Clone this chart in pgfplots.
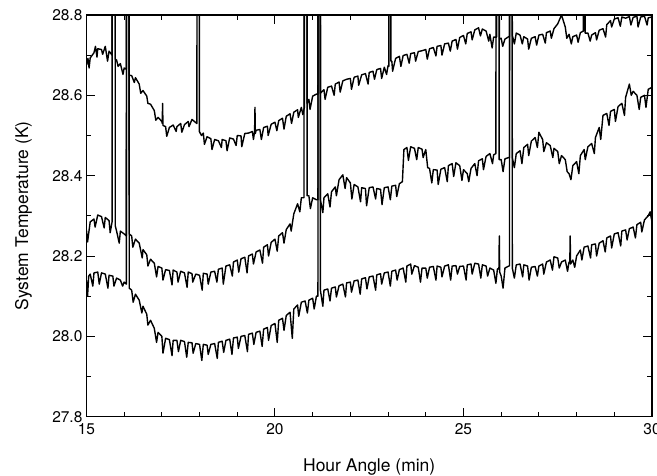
\documentclass[border=0pt]{standalone}
\usepackage{pgfplots}
\pgfplotsset{compat=1.18}
\usepackage{fontspec}
\setmainfont{TeX Gyre Heros}
\usetikzlibrary{calc}
\begin{document}
\begin{tikzpicture}
\begin{axis}[
  width=566bp, height=402bp, scale only axis,
  xmin=15, xmax=30, ymin=27.8, ymax=28.8,
  xtick={15,20,25,30},
  ytick={27.8,28.0,28.2,28.4,28.6,28.8},
  minor x tick num=4, minor y tick num=1,
  tick align=inside,
  major tick length=9bp, minor tick length=5bp,
  every tick/.style={black, line width=1pt},
  axis line style={line width=1.2pt},
  /pgf/number format/assume math mode=true,
  yticklabel style={/pgf/number format/fixed, /pgf/number format/precision=1, /pgf/number format/fixed zerofill, font=\fontsize{15.5bp}{17bp}\selectfont, xshift=-0.5bp},
  xticklabel style={font=\fontsize{15.5bp}{17bp}\selectfont, yshift=-3bp},
  xlabel={Hour Angle (min)},
  ylabel={System Temperature (K)},
  xlabel style={at={(axis description cs:0.5,-0.1244)}, anchor=center, font=\fontsize{17.5bp}{20bp}\selectfont},
  ylabel style={at={(axis description cs:-0.1113,0.5)}, anchor=center, font=\fontsize{17.5bp}{20bp}\selectfont},
]
% top series
\addplot[black, line width=1.4pt, line join=round] coordinates {
(15.0,28.675)(15.04,28.692)(15.07,28.668)(15.1,28.693)(15.2,28.706)(15.24,28.722)(15.28,28.695)(15.3,28.716)(15.4,28.714)(15.43,28.702)(15.5,28.722)(15.56,28.685)(15.6,28.71)
(15.68,28.70)(15.685,29.5)(15.76,29.5)(15.765,28.69)
(15.8,28.688)(15.84,28.672)(15.9,28.679)(15.97,28.652)(16.0,28.668)
(16.06,28.665)(16.065,29.5)(16.13,29.5)(16.135,28.65)
(16.2,28.649)(16.27,28.632)(16.3,28.644)(16.4,28.628)(16.44,28.605)(16.5,28.612)(16.6,28.598)(16.63,28.58)(16.7,28.578)(16.8,28.562)(16.84,28.538)(16.9,28.545)(17.0,28.535)
(17.01,28.53)(17.02,28.58)(17.03,28.525)
(17.1,28.522)(17.13,28.498)(17.2,28.52)(17.3,28.526)(17.38,28.51)(17.4,28.522)(17.5,28.53)(17.53,28.508)(17.6,28.527)(17.7,28.535)(17.72,28.522)(17.8,28.54)(17.9,28.532)
(17.93,28.53)(17.935,29.5)(17.99,29.5)(17.995,28.51)
(18.05,28.50)(18.1,28.506)(18.13,28.478)(18.2,28.497)(18.3,28.492)(18.33,28.465)(18.4,28.49)(18.5,28.487)(18.58,28.47)(18.6,28.49)(18.7,28.487)(18.73,28.462)(18.8,28.494)(18.9,28.491)(18.97,28.475)(19.0,28.5)(19.1,28.499)(19.12,28.472)(19.2,28.505)(19.3,28.506)(19.4,28.51)(19.43,28.49)
(19.46,28.51)(19.47,28.57)(19.48,28.505)
(19.5,28.513)(19.6,28.515)(19.64,28.49)(19.7,28.52)(19.8,28.523)(19.82,28.50)(19.9,28.528)(20.0,28.533)(20.05,28.512)(20.1,28.537)(20.2,28.543)(20.24,28.516)(20.3,28.548)(20.4,28.554)(20.44,28.53)(20.5,28.558)(20.6,28.564)(20.62,28.545)(20.7,28.57)(20.74,28.552)
(20.78,28.57)(20.785,29.5)(20.85,29.5)(20.855,28.58)
(20.9,28.59)(20.93,28.565)(21.0,28.598)(21.1,28.603)
(21.14,28.603)(21.145,29.5)(21.2,29.5)(21.205,28.605)
(21.3,28.614)(21.33,28.59)(21.4,28.62)(21.5,28.623)(21.57,28.6)(21.6,28.628)(21.7,28.633)(21.73,28.608)(21.8,28.636)(21.9,28.64)(22.0,28.642)(22.03,28.615)(22.1,28.645)(22.2,28.648)(22.22,28.625)(22.3,28.651)(22.4,28.654)(22.47,28.628)(22.5,28.657)(22.6,28.66)(22.64,28.64)(22.7,28.664)(22.8,28.667)(22.83,28.642)(22.9,28.67)(22.96,28.652)(23.0,28.674)
(23.02,28.672)(23.025,29.5)(23.07,29.5)(23.075,28.685)
(23.1,28.685)(23.12,28.66)(23.2,28.692)(23.3,28.697)(23.34,28.672)(23.4,28.699)(23.5,28.702)(23.56,28.68)(23.6,28.704)(23.7,28.706)(23.73,28.685)(23.8,28.709)(23.9,28.711)(24.0,28.714)(24.04,28.69)(24.1,28.716)(24.2,28.719)(24.27,28.698)(24.3,28.722)(24.4,28.724)(24.43,28.70)(24.5,28.728)(24.6,28.73)(24.65,28.71)(24.7,28.735)(24.8,28.739)(24.84,28.715)(24.9,28.744)(25.0,28.749)(25.06,28.728)(25.1,28.754)(25.2,28.758)(25.23,28.738)(25.3,28.763)(25.4,28.768)(25.45,28.748)(25.5,28.765)(25.6,28.76)(25.67,28.735)(25.7,28.752)(25.76,28.718)(25.8,28.745)
(25.88,28.745)(25.885,29.5)(25.95,29.5)(25.955,28.74)
(26.0,28.742)(26.04,28.722)(26.1,28.74)(26.2,28.746)
(26.22,28.746)(26.225,29.5)(26.29,29.5)(26.295,28.75)
(26.35,28.728)(26.4,28.755)(26.5,28.75)(26.56,28.728)(26.6,28.746)(26.7,28.74)(26.73,28.715)(26.8,28.742)(26.9,28.746)(26.94,28.725)(27.0,28.75)(27.1,28.752)(27.17,28.73)(27.2,28.756)(27.3,28.76)(27.33,28.742)(27.4,28.766)(27.5,28.778)(27.6,28.80)(27.65,28.785)(27.7,28.77)(27.74,28.742)(27.8,28.752)(27.86,28.728)(27.9,28.746)(28.0,28.75)(28.04,28.732)(28.1,28.756)
(28.18,28.76)(28.185,29.5)(28.22,29.5)(28.225,28.755)
(28.3,28.755)(28.36,28.735)(28.4,28.75)(28.5,28.756)(28.53,28.738)(28.6,28.762)(28.7,28.766)(28.77,28.745)(28.8,28.776)(28.9,28.786)(28.93,28.77)(29.0,28.79)(29.1,28.793)(29.16,28.772)(29.2,28.795)(29.3,28.792)(29.4,28.796)(29.44,28.775)(29.5,28.794)(29.6,28.797)(29.63,28.77)(29.7,28.795)(29.8,28.797)(29.87,28.775)(29.9,28.793)(30.0,28.795)
};
% middle series
\addplot[black, line width=1.4pt, line join=round] coordinates {
(15.0,28.265)(15.03,28.235)(15.1,28.285)(15.2,28.292)(15.23,28.272)(15.3,28.302)(15.4,28.298)(15.47,28.27)(15.5,28.296)(15.6,28.288)(15.63,28.258)
(15.68,28.285)(15.685,29.5)(15.76,29.5)(15.765,28.275)
(15.8,28.262)(15.87,28.232)(15.9,28.262)(16.0,28.255)
(16.06,28.25)(16.065,29.5)(16.13,29.5)(16.135,28.255)
(16.2,28.25)(16.23,28.222)(16.3,28.242)(16.4,28.232)(16.48,28.195)(16.5,28.216)(16.6,28.203)(16.63,28.175)(16.7,28.192)(16.8,28.182)(16.86,28.148)(16.9,28.174)(17.0,28.17)(17.03,28.14)(17.1,28.166)(17.2,28.164)(17.27,28.128)(17.3,28.165)(17.4,28.16)(17.43,28.135)(17.5,28.162)(17.6,28.158)(17.67,28.122)(17.7,28.16)(17.8,28.156)(17.82,28.135)(17.9,28.155)(18.0,28.152)(18.07,28.115)(18.1,28.157)(18.2,28.155)(18.23,28.13)(18.3,28.16)(18.4,28.162)(18.46,28.135)(18.5,28.167)(18.6,28.17)(18.63,28.13)(18.7,28.175)(18.8,28.178)(18.87,28.15)(18.9,28.185)(19.0,28.19)(19.04,28.16)(19.1,28.193)(19.2,28.197)(19.26,28.158)(19.3,28.2)(19.4,28.205)(19.43,28.18)(19.5,28.21)(19.6,28.215)(19.67,28.182)(19.7,28.222)(19.8,28.228)(19.83,28.2)(19.9,28.234)(20.0,28.242)(20.06,28.212)(20.1,28.25)(20.2,28.258)(20.24,28.232)(20.3,28.266)(20.4,28.28)(20.43,28.262)(20.5,28.305)(20.6,28.33)(20.66,28.31)(20.7,28.345)
(20.77,28.345)(20.775,29.5)(20.85,29.5)(20.855,28.35)
(20.9,28.35)(20.94,28.318)(21.0,28.345)(21.1,28.34)
(21.14,28.34)(21.145,29.5)(21.2,29.5)(21.205,28.34)
(21.27,28.308)(21.3,28.345)(21.4,28.355)(21.46,28.322)(21.5,28.36)(21.6,28.372)(21.63,28.35)(21.7,28.39)(21.8,28.402)(21.86,28.368)(21.9,28.395)(22.0,28.382)(22.04,28.342)(22.1,28.378)(22.2,28.372)(22.27,28.335)(22.3,28.37)(22.4,28.368)(22.43,28.325)(22.5,28.37)(22.6,28.372)(22.67,28.342)(22.7,28.368)(22.8,28.366)(22.84,28.328)(22.9,28.37)(23.0,28.372)(23.06,28.34)(23.1,28.374)(23.2,28.376)(23.23,28.348)(23.3,28.38)(23.38,28.385)(23.42,28.465)(23.5,28.47)(23.54,28.438)(23.6,28.472)(23.7,28.468)(23.76,28.44)(23.8,28.47)(23.9,28.466)(23.93,28.445)(24.0,28.465)(24.05,28.42)(24.1,28.418)(24.16,28.382)(24.2,28.415)(24.3,28.414)(24.33,28.378)(24.4,28.416)(24.5,28.42)(24.57,28.385)(24.6,28.425)(24.7,28.43)(24.74,28.398)(24.8,28.432)(24.9,28.425)(24.96,28.388)(25.0,28.415)(25.1,28.405)(25.14,28.385)(25.2,28.418)(25.3,28.43)(25.36,28.40)(25.4,28.437)(25.5,28.442)(25.53,28.415)(25.6,28.448)(25.7,28.455)(25.77,28.43)(25.8,28.452)
(25.86,28.455)(25.865,29.5)(25.94,29.5)(25.945,28.44)
(26.0,28.44)(26.05,28.41)(26.1,28.442)(26.2,28.445)
(26.22,28.445)(26.225,29.5)(26.29,29.5)(26.295,28.445)
(26.35,28.42)(26.4,28.455)(26.5,28.462)(26.55,28.43)(26.6,28.47)(26.7,28.478)(26.73,28.45)(26.8,28.486)(26.9,28.495)(26.96,28.47)(27.0,28.508)(27.1,28.49)(27.13,28.46)(27.2,28.482)(27.3,28.475)(27.37,28.445)(27.4,28.468)(27.5,28.46)(27.54,28.43)(27.6,28.45)(27.7,28.44)(27.75,28.41)(27.8,28.405)(27.85,28.39)(27.9,28.425)(28.0,28.435)(28.06,28.405)(28.1,28.45)(28.2,28.465)(28.23,28.44)(28.3,28.472)(28.4,28.48)(28.47,28.455)(28.5,28.495)(28.6,28.52)(28.64,28.49)(28.7,28.55)(28.8,28.555)(28.86,28.525)(28.9,28.56)(29.0,28.565)(29.03,28.535)(29.1,28.572)(29.2,28.58)(29.27,28.55)(29.3,28.595)(29.4,28.628)(29.45,28.6)(29.5,28.61)(29.6,28.6)(29.66,28.565)(29.7,28.595)(29.8,28.6)(29.84,28.57)(29.9,28.615)(30.0,28.62)
};
% lower series
\addplot[black, line width=1.4pt, line join=round] coordinates {
(15.0,28.14)(15.03,28.10)(15.06,28.15)(15.1,28.155)(15.17,28.125)(15.2,28.158)(15.3,28.16)(15.34,28.13)(15.4,28.158)(15.5,28.155)(15.57,28.12)(15.6,28.152)(15.7,28.15)(15.73,28.125)(15.8,28.145)(15.9,28.14)(15.96,28.125)(16.0,28.135)
(16.06,28.13)(16.065,29.5)(16.13,29.5)(16.135,28.12)
(16.2,28.115)(16.24,28.085)(16.3,28.105)(16.4,28.09)(16.47,28.058)(16.5,28.075)(16.6,28.055)(16.63,28.028)(16.7,28.04)(16.8,28.02)(16.86,27.985)(16.9,28.01)(17.0,28.0)(17.03,27.958)(17.1,27.995)(17.2,27.992)(17.27,27.952)(17.3,27.99)(17.4,27.99)(17.44,27.962)(17.5,27.99)(17.6,27.987)(17.66,27.948)(17.7,27.985)(17.8,27.984)(17.83,27.958)(17.9,27.982)(18.0,27.98)(18.06,27.94)(18.1,27.98)(18.2,27.978)(18.23,27.955)(18.3,27.98)(18.4,27.982)(18.47,27.945)(18.5,27.985)(18.6,27.988)(18.64,27.96)(18.7,27.99)(18.8,27.993)(18.86,27.955)(18.9,27.996)(19.0,27.998)(19.03,27.97)(19.1,28.0)(19.2,28.002)(19.27,27.962)(19.3,28.005)(19.4,28.008)(19.44,27.98)(19.5,28.01)(19.6,28.013)(19.66,27.975)(19.7,28.018)(19.8,28.022)(19.83,27.99)(19.9,28.027)(20.0,28.032)(20.06,27.985)(20.1,28.04)(20.2,28.045)(20.24,28.015)(20.3,28.052)(20.4,28.06)(20.46,27.995)(20.5,28.068)(20.6,28.078)(20.63,28.05)(20.7,28.085)(20.8,28.088)(20.86,28.058)(20.9,28.09)(21.0,28.095)(21.04,28.068)(21.1,28.10)
(21.14,28.10)(21.145,29.5)(21.2,29.5)(21.205,28.115)
(21.27,28.075)(21.3,28.115)(21.4,28.118)(21.46,28.088)(21.5,28.12)(21.6,28.123)(21.63,28.098)(21.7,28.126)(21.8,28.13)(21.87,28.098)(21.9,28.133)(22.0,28.135)(22.03,28.11)(22.1,28.138)(22.2,28.14)(22.26,28.105)(22.3,28.143)(22.4,28.146)(22.44,28.118)(22.5,28.148)(22.6,28.15)(22.67,28.115)(22.7,28.153)(22.8,28.156)(22.83,28.13)(22.9,28.158)(23.0,28.16)(23.06,28.125)(23.1,28.162)(23.2,28.165)(23.24,28.14)(23.3,28.166)(23.4,28.17)(23.47,28.135)(23.5,28.175)(23.6,28.18)(23.63,28.155)(23.7,28.176)(23.8,28.172)(23.86,28.135)(23.9,28.17)(24.0,28.17)(24.04,28.145)(24.1,28.172)(24.2,28.174)(24.27,28.14)(24.3,28.175)(24.4,28.172)(24.43,28.148)(24.5,28.175)(24.6,28.178)(24.66,28.14)(24.7,28.175)(24.8,28.176)(24.84,28.155)(24.9,28.174)(25.0,28.175)(25.07,28.14)(25.1,28.178)(25.2,28.18)(25.23,28.155)(25.3,28.182)(25.4,28.18)(25.46,28.145)(25.5,28.178)(25.6,28.175)(25.64,28.15)(25.7,28.17)(25.8,28.165)(25.86,28.132)(25.9,28.168)
(25.94,28.168)(25.95,28.25)(25.96,28.16)
(26.0,28.15)(26.05,28.12)(26.1,28.17)(26.2,28.175)
(26.22,28.175)(26.225,29.5)(26.29,29.5)(26.295,28.17)
(26.35,28.145)(26.4,28.178)(26.5,28.18)(26.57,28.148)(26.6,28.178)(26.7,28.175)(26.74,28.14)(26.8,28.172)(26.9,28.174)(26.96,28.15)(27.0,28.175)(27.1,28.18)(27.13,28.155)(27.2,28.185)(27.3,28.19)(27.36,28.165)(27.4,28.198)(27.5,28.195)(27.54,28.17)(27.6,28.185)(27.7,28.19)(27.76,28.162)(27.8,28.185)
(27.82,28.185)(27.83,28.25)(27.84,28.18)
(27.9,28.19)(27.95,28.172)(28.0,28.20)(28.1,28.215)(28.14,28.19)(28.2,28.222)(28.3,28.225)(28.37,28.195)(28.4,28.228)(28.5,28.23)(28.53,28.2)(28.6,28.232)(28.7,28.238)(28.76,28.21)(28.8,28.245)(28.9,28.25)(28.93,28.22)(29.0,28.255)(29.1,28.258)(29.17,28.225)(29.2,28.262)(29.3,28.265)(29.34,28.24)(29.4,28.268)(29.5,28.272)(29.56,28.245)(29.6,28.278)(29.7,28.284)(29.73,28.26)(29.8,28.29)(29.9,28.30)(29.95,28.31)(30.0,28.285)
};
\end{axis}
\pgfresetboundingbox
\path[use as bounding box] ($(current axis.south west)+(-86.5bp,-59bp)$) rectangle ($(current axis.north east)+(5bp,15bp)$);
\end{tikzpicture}
\end{document}
